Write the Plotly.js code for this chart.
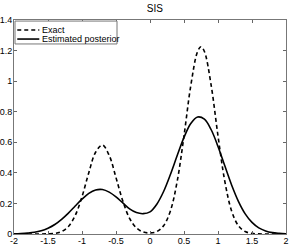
<!DOCTYPE html>
<html>
<head>
<meta charset="utf-8">
<script src="https://cdn.plot.ly/plotly-3.0.1.min.js"></script>
<style>html,body{margin:0;padding:0;background:#fff;}#chart{width:291px;height:245px;}</style>
</head>
<body>
<div id="chart"></div>
<script>
// x positions for the exact density
const xExact = [-2,-1.9,-1.8,-1.7,-1.6,-1.5,-1.4,-1.3,-1.2,-1.1,-1.0,-0.9,-0.8,-0.7,-0.6,-0.5,-0.4,-0.3,-0.2,-0.1,0,0.1,0.2,0.3,0.4,0.5,0.6,0.7,0.75,0.8,0.9,1.0,1.1,1.2,1.3,1.4,1.5,1.6,1.7,1.8,1.9,2.0];
const yExact = [0,0,0,0,0.0002,0.001,0.004,0.016,0.049,0.121,0.244,0.401,0.535,0.582,0.514,0.369,0.216,0.102,0.040,0.013,0.007,0.016,0.054,0.151,0.345,0.642,0.971,1.194,1.225,1.194,0.971,0.642,0.345,0.151,0.054,0.016,0.004,0.001,0,0,0,0];
// x positions for the estimated posterior
const xEst = [-2,-1.9,-1.8,-1.7,-1.6,-1.5,-1.4,-1.3,-1.2,-1.1,-1.0,-0.9,-0.8,-0.7,-0.6,-0.5,-0.4,-0.3,-0.2,-0.1,0,0.1,0.2,0.3,0.4,0.5,0.6,0.7,0.8,0.9,1.0,1.1,1.2,1.3,1.4,1.5,1.6,1.7,1.8,1.9,2.0];
const yEst = [0.001,0.003,0.006,0.011,0.021,0.038,0.062,0.096,0.137,0.183,0.228,0.266,0.288,0.291,0.274,0.243,0.203,0.164,0.140,0.133,0.145,0.195,0.278,0.389,0.513,0.632,0.723,0.765,0.751,0.682,0.573,0.446,0.321,0.214,0.132,0.076,0.040,0.020,0.009,0.004,0.001];
const seriesNames = ["Exact", "Estimated posterior"];
const chartTitle = "SIS";
const xTicks = [-2,-1.5,-1,-0.5,0,0.5,1,1.5,2];
const yTicks = [0,0.2,0.4,0.6,0.8,1,1.2,1.4];

const font = {family: "Liberation Sans, Arial, sans-serif", size: 9, color: "#000"};
const dashPat = "4px,3px";
const traces = [
  {x: xExact, y: yExact, name: seriesNames[0], mode: "lines",
   line: {color: "#000", width: 1.6, dash: dashPat, shape: "spline"}},
  {x: xEst, y: yEst, name: seriesNames[1], mode: "lines",
   line: {color: "#000", width: 1.6, shape: "spline"}}
];
const axisBase = {showgrid: false, zeroline: false, ticks: "inside", ticklen: 3, tickwidth: 1,
  tickcolor: "#666", linecolor: "#777", linewidth: 1, mirror: "ticks", showline: true,
  tickfont: font, automargin: false, fixedrange: true};

// compact MATLAB-style legend box (paper coordinates)
const lg = {x0: 0.0037, x1: 0.3787, y0: 0.888, y1: 0.995, lx0: 0.012, lx1: 0.093, tx: 0.097, rows: [0.953, 0.911]};
const shapes = [
  {type: "rect", xref: "paper", yref: "paper", x0: lg.x0, x1: lg.x1, y0: lg.y0, y1: lg.y1,
   line: {color: "#777", width: 1}, fillcolor: "#fff", layer: "above"},
  {type: "line", xref: "paper", yref: "paper", x0: lg.lx0, x1: lg.lx1, y0: lg.rows[0], y1: lg.rows[0],
   line: {color: "#000", width: 1.6, dash: dashPat}, layer: "above"},
  {type: "line", xref: "paper", yref: "paper", x0: lg.lx0, x1: lg.lx1, y0: lg.rows[1], y1: lg.rows[1],
   line: {color: "#000", width: 1.6}, layer: "above"}
];
const annotations = seriesNames.map((n, i) => ({
  text: n, xref: "paper", yref: "paper", x: lg.tx, y: lg.rows[i], xanchor: "left", yanchor: "middle",
  showarrow: false, font: font
}));

const layout = {
  width: 291, height: 245,
  margin: {l: 14, r: 5, t: 20, b: 11, pad: 0},
  paper_bgcolor: "#fff", plot_bgcolor: "#fff",
  font: font,
  title: {text: chartTitle, font: {family: font.family, size: 10, color: "#000"}, x: 0.518, xref: "paper", xanchor: "center", y: 0.967, yref: "container", yanchor: "middle"},
  xaxis: Object.assign({}, axisBase, {range: [-2, 2], tickvals: xTicks, ticktext: xTicks.map(v => String(v)), ticklabelstandoff: -2}),
  yaxis: Object.assign({}, axisBase, {range: [0, 1.4], tickvals: yTicks, ticktext: yTicks.map(v => String(v)), ticklabelstandoff: -1}),
  showlegend: false,
  shapes: shapes,
  annotations: annotations
};
Plotly.newPlot("chart", traces, layout, {displayModeBar: false, staticPlot: true});
</script>
</body>
</html>
